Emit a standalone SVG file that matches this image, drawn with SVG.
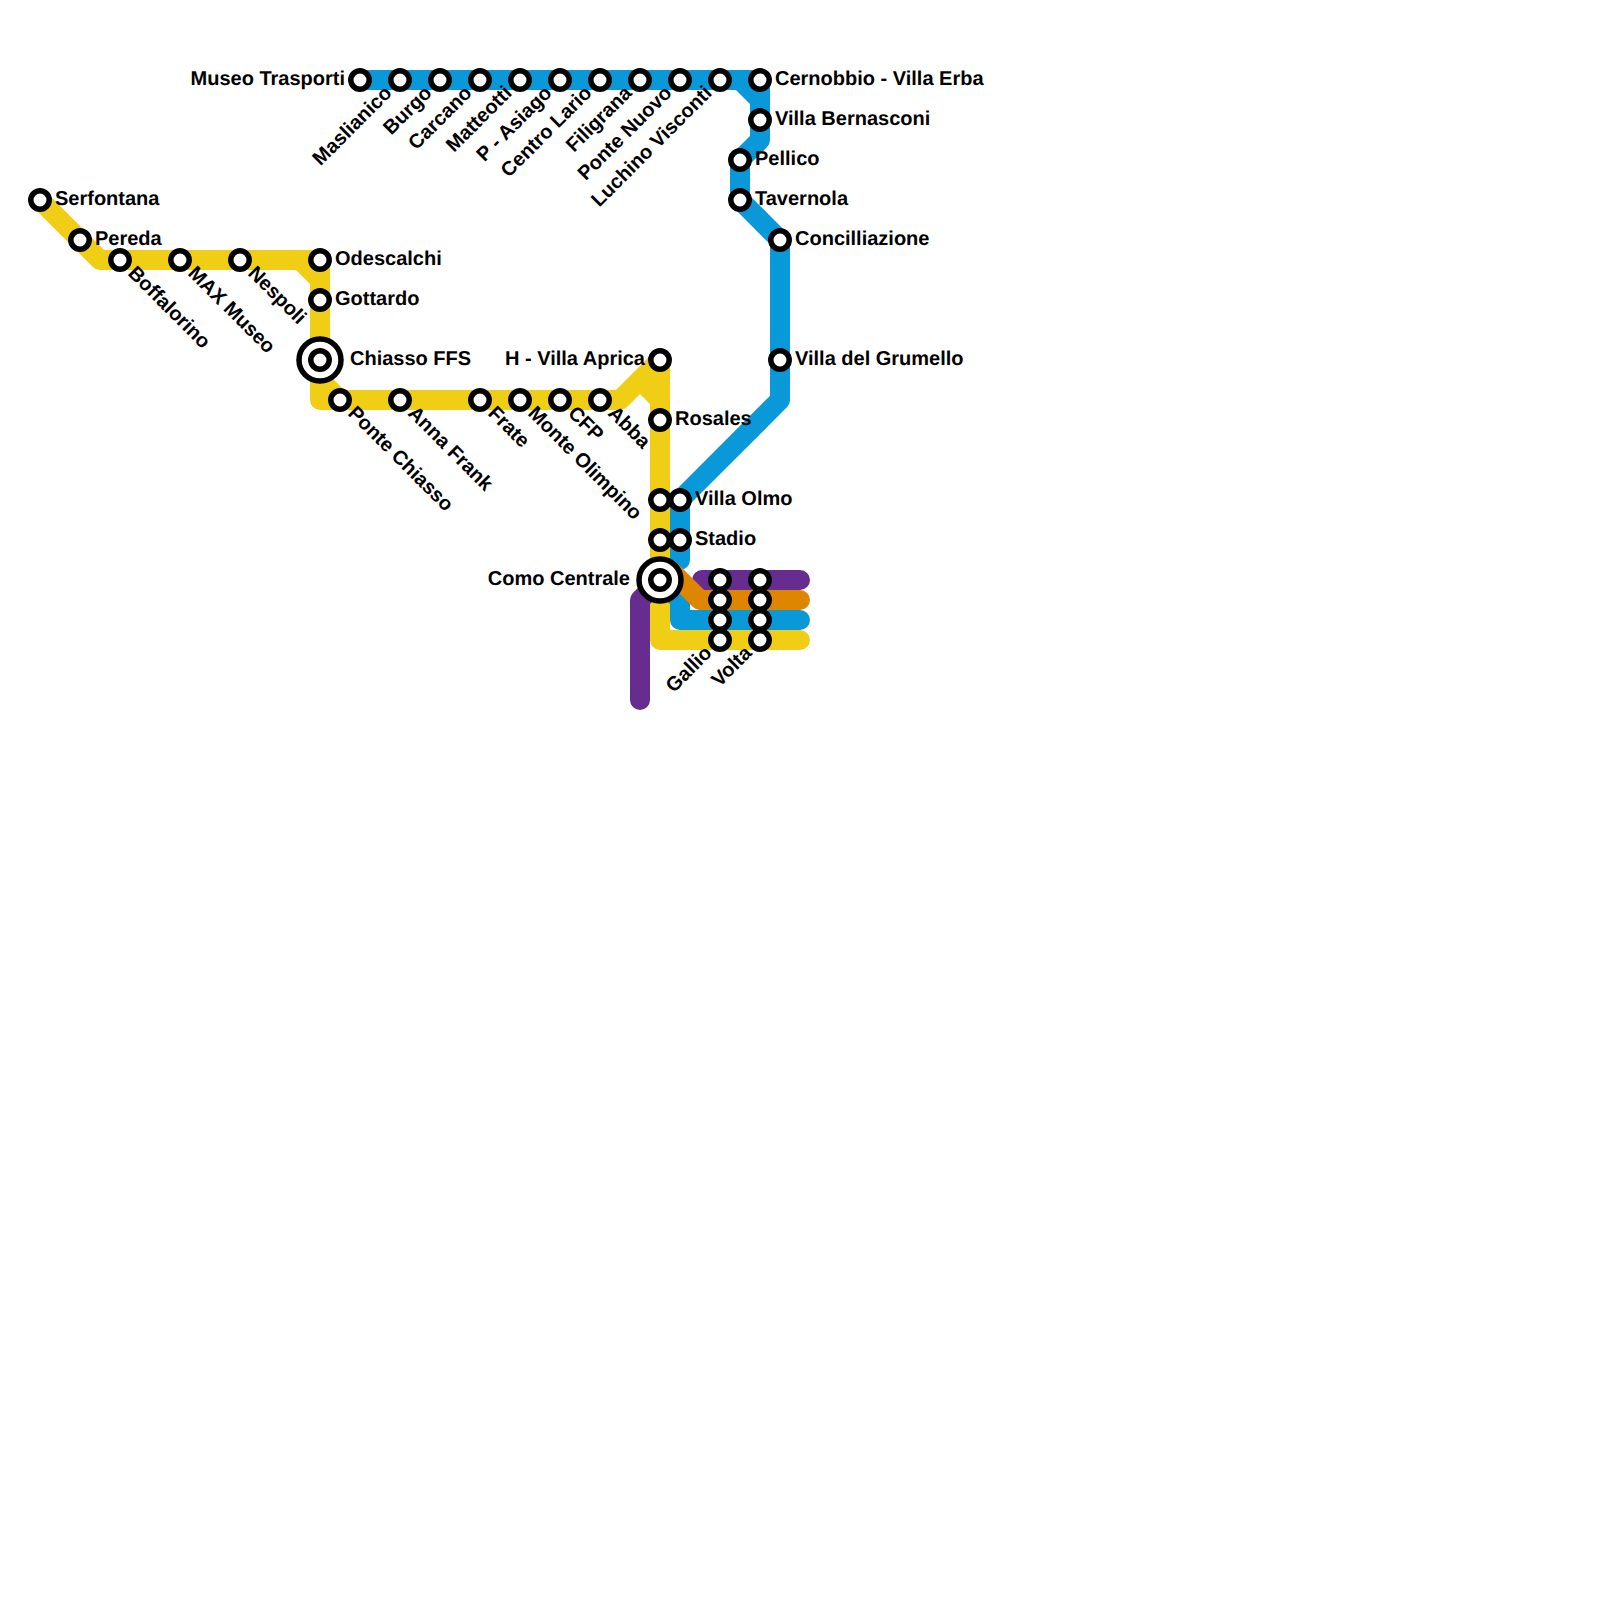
<svg xmlns="http://www.w3.org/2000/svg" width="1600" height="1600" viewBox="0 0 1600 1600">
<style>
.l{fill:none;stroke-width:20;stroke-linejoin:round;stroke-linecap:round}
.y{stroke:#f0ce15}.b{stroke:#0998d8}.o{stroke:#df8600}.p{stroke:#662c90}
.s{fill:#fff;stroke:#000;stroke-width:5.5}
.r{fill:#fff;stroke:#000;stroke-width:5.5}
text{font-family:"Liberation Sans",Arial,sans-serif;font-weight:700;font-size:20px;fill:#000;text-rendering:geometricPrecision}
.e{text-anchor:end}
</style>
<rect width="1600" height="1600" fill="#fff"/>
<g id="connectors">
<path class="l y" d="M40 200L100 260H320V400H620L660 360V640H800"/>
<path class="l y" d="M300 260L320 280M320 380L340 400M640 380L660 400"/>
<path class="l b" d="M360 80H760V140L740 160V200L780 240V400L680 500V560"/>
<path class="l b" d="M740 80L760 100"/>
<path class="l b" d="M660 580L680 600V620H800"/>
<path class="l p" d="M702 580H800"/>
<path class="l o" d="M670 570L700 600H800"/>
<path class="l p" d="M660 580L640 600V700"/>
</g>
<g id="n-serfontana" transform="translate(40 200)"><circle class="s" r="9.2"/><text x="15" y="5">Serfontana</text></g>
<g id="n-pereda" transform="translate(80 240)"><circle class="s" r="9.2"/><text x="15" y="5">Pereda</text></g>
<g id="n-boffalorino" transform="translate(120 260)"><circle class="s" r="9.2"/><text transform="rotate(45)" x="15" y="5">Boffalorino</text></g>
<g id="n-max" transform="translate(180 260)"><circle class="s" r="9.2"/><text transform="rotate(45)" x="15" y="5">MAX Museo</text></g>
<g id="n-nespoli" transform="translate(240 260)"><circle class="s" r="9.2"/><text transform="rotate(45)" x="15" y="5">Nespoli</text></g>
<g id="n-odescalchi" transform="translate(320 260)"><circle class="s" r="9.2"/><text x="15" y="5">Odescalchi</text></g>
<g id="n-gottardo" transform="translate(320 300)"><circle class="s" r="9.2"/><text x="15" y="5">Gottardo</text></g>
<g id="n-chiasso" transform="translate(320 360)"><circle class="r" r="21"/><circle class="s" r="9.2"/><text x="30" y="5">Chiasso FFS</text></g>
<g id="n-ponte-chiasso" transform="translate(340 400)"><circle class="s" r="9.2"/><text transform="rotate(45)" x="15" y="5">Ponte Chiasso</text></g>
<g id="n-anna-frank" transform="translate(400 400)"><circle class="s" r="9.2"/><text transform="rotate(45)" x="15" y="5">Anna Frank</text></g>
<g id="n-frate" transform="translate(480 400)"><circle class="s" r="9.2"/><text transform="rotate(45)" x="15" y="5">Frate</text></g>
<g id="n-monte-olimpino" transform="translate(520 400)"><circle class="s" r="9.2"/><text transform="rotate(45)" x="15" y="5">Monte Olimpino</text></g>
<g id="n-cfp" transform="translate(560 400)"><circle class="s" r="9.2"/><text transform="rotate(45)" x="15" y="5">CFP</text></g>
<g id="n-abba" transform="translate(600 400)"><circle class="s" r="9.2"/><text transform="rotate(45)" x="15" y="5">Abba</text></g>
<g id="n-villa-aprica" transform="translate(660 360)"><circle class="s" r="9.2"/><text class="e" x="-15" y="5">H - Villa Aprica</text></g>
<g id="n-rosales" transform="translate(660 420)"><circle class="s" r="9.2"/><text x="15" y="5">Rosales</text></g>
<g id="n-villa-olmo"><circle class="s" r="9.2" cx="660" cy="500"/><circle class="s" r="9.2" cx="680" cy="500"/><text x="695" y="505">Villa Olmo</text></g>
<g id="n-stadio"><circle class="s" r="9.2" cx="660" cy="540"/><circle class="s" r="9.2" cx="680" cy="540"/><text x="695" y="545">Stadio</text></g>
<g id="n-como" transform="translate(660 580)"><circle class="r" r="21"/><circle class="s" r="9.2"/><text class="e" x="-30" y="5">Como Centrale</text></g>
<g id="n-gallio"><circle class="s" r="9.2" cx="720" cy="580"/><circle class="s" r="9.2" cx="720" cy="600"/><circle class="s" r="9.2" cx="720" cy="620"/><circle class="s" r="9.2" cx="720" cy="640"/><text class="e" transform="translate(720 640) rotate(-45)" x="-15" y="5">Gallio</text></g>
<g id="n-volta"><circle class="s" r="9.2" cx="760" cy="580"/><circle class="s" r="9.2" cx="760" cy="600"/><circle class="s" r="9.2" cx="760" cy="620"/><circle class="s" r="9.2" cx="760" cy="640"/><text class="e" transform="translate(760 640) rotate(-45)" x="-15" y="5">Volta</text></g>
<g id="n-museo" transform="translate(360 80)"><circle class="s" r="9.2"/><text class="e" x="-15" y="5">Museo Trasporti</text></g>
<g id="n-maslianico" transform="translate(400 80)"><circle class="s" r="9.2"/><text class="e" transform="rotate(-45)" x="-15" y="5">Maslianico</text></g>
<g id="n-burgo" transform="translate(440 80)"><circle class="s" r="9.2"/><text class="e" transform="rotate(-45)" x="-15" y="5">Burgo</text></g>
<g id="n-carcano" transform="translate(480 80)"><circle class="s" r="9.2"/><text class="e" transform="rotate(-45)" x="-15" y="5">Carcano</text></g>
<g id="n-matteotti" transform="translate(520 80)"><circle class="s" r="9.2"/><text class="e" transform="rotate(-45)" x="-15" y="5">Matteotti</text></g>
<g id="n-asiago" transform="translate(560 80)"><circle class="s" r="9.2"/><text class="e" transform="rotate(-45)" x="-15" y="5">P - Asiago</text></g>
<g id="n-centro-lario" transform="translate(600 80)"><circle class="s" r="9.2"/><text class="e" transform="rotate(-45)" x="-15" y="5">Centro Lario</text></g>
<g id="n-filigrana" transform="translate(640 80)"><circle class="s" r="9.2"/><text class="e" transform="rotate(-45)" x="-15" y="5">Filigrana</text></g>
<g id="n-ponte-nuovo" transform="translate(680 80)"><circle class="s" r="9.2"/><text class="e" transform="rotate(-45)" x="-15" y="5">Ponte Nuovo</text></g>
<g id="n-visconti" transform="translate(720 80)"><circle class="s" r="9.2"/><text class="e" transform="rotate(-45)" x="-15" y="5">Luchino Visconti</text></g>
<g id="n-cernobbio" transform="translate(760 80)"><circle class="s" r="9.2"/><text x="15" y="5">Cernobbio - Villa Erba</text></g>
<g id="n-bernasconi" transform="translate(760 120)"><circle class="s" r="9.2"/><text x="15" y="5">Villa Bernasconi</text></g>
<g id="n-pellico" transform="translate(740 160)"><circle class="s" r="9.2"/><text x="15" y="5">Pellico</text></g>
<g id="n-tavernola" transform="translate(740 200)"><circle class="s" r="9.2"/><text x="15" y="5">Tavernola</text></g>
<g id="n-concilliazione" transform="translate(780 240)"><circle class="s" r="9.2"/><text x="15" y="5">Concilliazione</text></g>
<g id="n-grumello" transform="translate(780 360)"><circle class="s" r="9.2"/><text x="15" y="5">Villa del Grumello</text></g>
</svg>
